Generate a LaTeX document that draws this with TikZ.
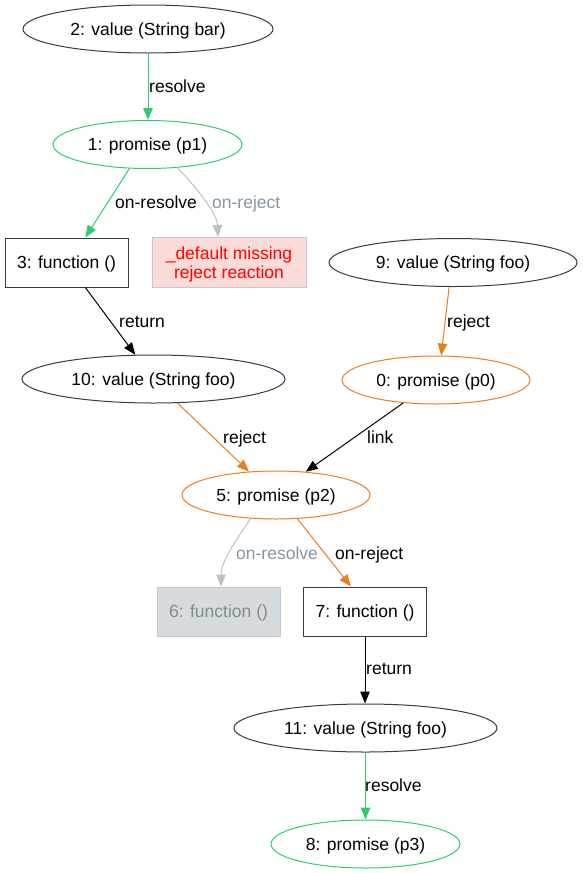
\documentclass[tikz,border=0pt]{standalone}
\usepackage{fontspec}
\setmainfont{Liberation Sans}
\usetikzlibrary{arrows.meta,shapes.geometric}
\definecolor{slate}{HTML}{2C3E50}
\definecolor{flatgreen}{HTML}{2ECC71}
\definecolor{flatorange}{HTML}{E67E22}
\definecolor{edgegray}{HTML}{C0C0C0}
\definecolor{labelgray}{HTML}{8795A1}
\definecolor{mutedfill}{HTML}{D6DBDF}
\definecolor{mutedtext}{HTML}{7F8C8D}
\definecolor{errfill}{HTML}{FADBD8}
\definecolor{errborder}{HTML}{C8C8C8}
\begin{document}
\begin{tikzpicture}[x=1pt,y=-1pt,
  txtfont/.style={font=\fontsize{17.5}{19}\selectfont, inner sep=0pt},
  txt/.style={txtfont, text height=12.6pt, text depth=0pt},
  shapeline/.style={line width=1pt},
  valnode/.style={txt, shapeline, ellipse, draw=slate, minimum height=48pt},
  promgreen/.style={txt, shapeline, ellipse, draw=flatgreen, minimum height=48pt, minimum width=189pt},
  promorange/.style={txt, shapeline, ellipse, draw=flatorange, minimum height=48pt, minimum width=188pt},
  fnbox/.style={txt, shapeline, rectangle, draw=slate, minimum width=123pt, minimum height=49pt},
  mutedbox/.style={fnbox, draw=errborder, fill=mutedfill, text=mutedtext},
  errbox/.style={txtfont, text height=32pt, text depth=0pt, shapeline, rectangle, draw=errborder,
    fill=errfill, text=red, align=center, minimum width=154pt, minimum height=50pt},
  lab/.style={txt, anchor=west},
  edge/.style={line width=1pt, -{Triangle[length=12pt,width=9.5pt]}},
]
\useasboundingbox (0,0) rectangle (582,873);

% nodes
\node[valnode, minimum width=250pt] (v2) at (148,29) {2: value (String bar)};
\node[promgreen] (p1) at (147.5,144.5) {1: promise (p1)};
\node[fnbox] (f3) at (66.5,262.5) {3: function ()};
\node[errbox] (dflt) at (229,262.5) {\_default missing\\reject reaction};
\node[valnode, minimum width=248pt] (v9) at (453,262.5) {9: value (String foo)};
\node[valnode, minimum width=263pt] (v10) at (153.5,379) {10: value (String foo)};
\node[promorange] (p0) at (436,380) {0: promise (p0)};
\node[promorange] (p2) at (276,495) {5: promise (p2)};
\node[mutedbox] (f6) at (218.5,611.5) {6: function ()};
\node[fnbox] (f7) at (365,611.5) {7: function ()};
\node[valnode, minimum width=263pt] (v11) at (365.5,728) {11: value (String foo)};
\node[promgreen] (p3) at (365.5,844) {8: promise (p3)};

% edges
\draw[edge, flatgreen] (v2.south) -- (v2.south |- p1.north);
\draw[edge, flatgreen] (p1.233.5) -- (f3.53);
\draw[edge, edgegray] (p1.322.7) .. controls +(17,17) and +(-1,-24) .. ([xshift=-11pt]dflt.north);
\draw[edge, black] (f3.307) -- (v10.127.6);
\draw[edge, flatorange] (v9.261) -- (p0.78);
\draw[edge, flatorange] (v10.315.6) -- (p2.139.4);
\draw[edge, black] (p0.215.7) -- (p2.38.4);
\draw[edge, edgegray] (p2.223.8) .. controls +(-12,18) and +(0,-26) .. ([xshift=2.5pt]f6.north);
\draw[edge, flatorange] (p2.312.5) -- ([xshift=-14pt]f7.north);
\draw[edge, black] (f7.south) -- (f7.south |- v11.north);
\draw[edge, flatgreen] (v11.south) -- (v11.south |- p3.north);

% edge labels
\node[lab] (l1) at (149,86) {resolve};
\node[lab] (l2) at (115,202) {on-resolve};
\node[lab, text=labelgray] (l3) at (212,202) {on-reject};
\node[lab] (l4) at (119,321) {return};
\node[lab] (l5) at (447,321) {reject};
\node[lab] (l6) at (223,437) {reject};
\node[lab] (l7) at (367,437) {link};
\node[lab, text=labelgray] (l8) at (236,553) {on-resolve};
\node[lab] (l9) at (335,553) {on-reject};
\node[lab] (l10) at (366,668) {return};
\node[lab] (l11) at (365,785) {resolve};
\end{tikzpicture}
\end{document}
